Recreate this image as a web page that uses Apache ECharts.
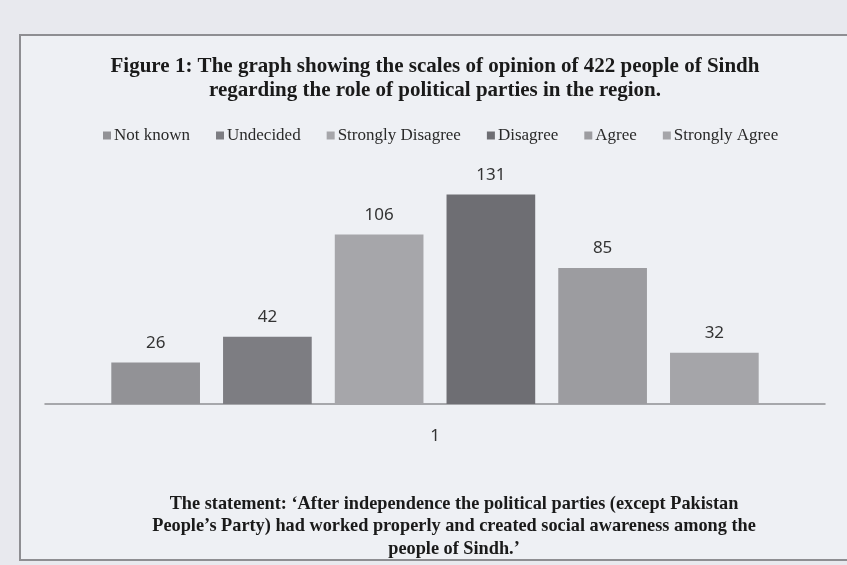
<!DOCTYPE html>
<html>
<head>
<meta charset="utf-8">
<script src="https://cdn.jsdelivr.net/npm/echarts@6/dist/echarts.min.js"></script>
<style>
  html, body { margin: 0; padding: 0; background: #e8e9ee; }
  #chart { width: 847px; height: 565px; }
</style>
</head>
<body>
<div id="chart"></div>
<script>
// Survey responses (422 respondents), one group with six opinion levels
const categories = ['1'];
const seriesNames = ['Not known', 'Undecided', 'Strongly Disagree', 'Disagree', 'Agree', 'Strongly Agree'];
const seriesValues = [26, 42, 106, 131, 85, 32];
const seriesColors = ['#929296', '#7d7d82', '#a6a6aa', '#6e6e73', '#9c9ca0', '#a5a5a9'];

const titleText = 'Figure 1: The graph showing the scales of opinion of 422 people of Sindh\nregarding the role of political parties in the region.';
const statementText = 'The statement: \u2018After independence the political parties (except Pakistan\nPeople\u2019s Party) had worked properly and created social awareness among the\npeople of Sindh.\u2019';

const chart = echarts.init(document.getElementById('chart'), null, { renderer: 'canvas' });

const series = seriesNames.map((name, i) => ({
  name: name,
  type: 'bar',
  data: [seriesValues[i]],
  barGap: '26%',
  barCategoryGap: '17%',
  itemStyle: { color: seriesColors[i] },
  label: {
    show: true,
    position: 'top',
    distance: 11,
    color: '#333333',
    fontFamily: 'Noto Sans',
    fontSize: 17
  }
}));

chart.setOption({
  backgroundColor: '#e8e9ee',
  animation: false,
  graphic: [
    {
      type: 'rect',
      z: -10,
      shape: { x: 20, y: 35, width: 860, height: 525 },
      style: { fill: '#eef0f4', stroke: '#8e8e92', lineWidth: 2 }
    },
    {
      type: 'text',
      style: {
        text: titleText,
        fontFamily: 'Liberation Serif',
        fontWeight: 'bold',
        fontSize: 21,
        lineHeight: 24,
        fill: '#1a1a1a',
        align: 'center',
        verticalAlign: 'top'
      },
      x: 435,
      y: 55
    },
    {
      type: 'text',
      style: {
        text: statementText,
        fontFamily: 'Liberation Serif',
        fontWeight: 'bold',
        fontSize: 18.3,
        lineHeight: 22.5,
        fill: '#1a1a1a',
        align: 'center',
        verticalAlign: 'top'
      },
      x: 454,
      y: 493
    }
  ],
  legend: {
    top: 122,
    left: 98,
    itemWidth: 8,
    itemHeight: 8,
    itemGap: 26,
    icon: 'rect',
    textStyle: {
      fontFamily: 'Liberation Serif',
      fontSize: 17,
      color: '#2a2a2a',
      padding: [0, 0, 0, -2]
    },
    data: seriesNames
  },
  grid: { left: 45, right: 22, top: 180, bottom: 161 },
  xAxis: {
    type: 'category',
    data: categories,
    axisTick: { show: false },
    axisLine: { lineStyle: { color: '#8e8e92', width: 1.5 } },
    axisLabel: { margin: 24, fontFamily: 'Noto Sans', fontSize: 17, color: '#333333' }
  },
  yAxis: {
    type: 'value',
    min: 0,
    max: 140,
    show: false,
    splitLine: { show: false }
  },
  series: series
});
</script>
</body>
</html>
